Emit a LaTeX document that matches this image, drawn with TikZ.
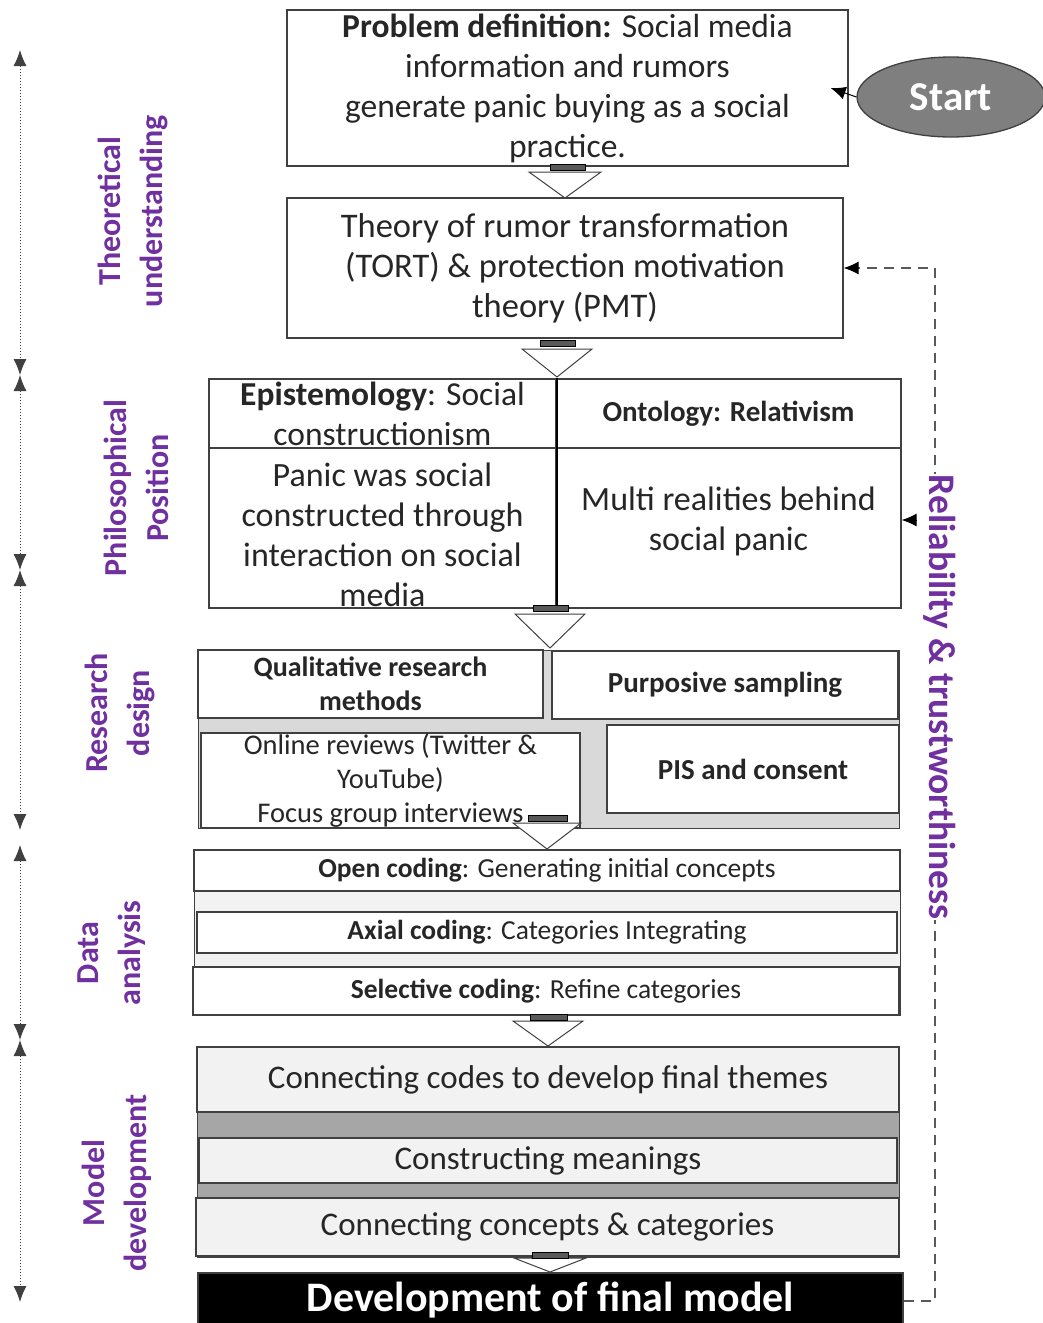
\documentclass[tikz,border=0pt]{standalone}
\usepackage{fontspec}
\setmainfont{Carlito}
\usetikzlibrary{arrows.meta,shapes.geometric}
\definecolor{txt}{HTML}{262626}
\definecolor{edge}{HTML}{404040}
\definecolor{purp}{HTML}{7030A0}
\definecolor{gA}{HTML}{D9D9D9}
\definecolor{gB}{HTML}{F2F2F2}
\definecolor{gC}{HTML}{A6A6A6}
\definecolor{barc}{HTML}{595959}
\definecolor{startfill}{HTML}{7F7F7F}
\definecolor{fbgray}{HTML}{595959}
\newcommand\fsz[2]{\fontsize{#1}{#2}\selectfont}
% #1 centre x, #2 triangle top y, #3 tip y, #4 half width, #5 bar left, #6 bar right, #7 bar top
\newcommand\flowarr[7]{%
  \draw[edge, line width=1pt, fill=white] (#1-#4,#2) -- (#1+#4,#2) -- (#1,#3) -- cycle;
  \draw[black, line width=0.8pt, fill=barc] (#5,#7) rectangle (#6,#7+6);
}
\begin{document}
\begin{tikzpicture}[x=1pt,y=-1pt,
  box/.style={draw=edge, line width=1.3pt, fill=white, text=txt, align=center, inner sep=0pt},
  bigtxt/.style={font=\fsz{34}{40}},
  midtxt/.style={font=\fsz{27.5}{33}},
  lab/.style={text=purp, font=\fsz{32}{42}\bfseries, align=center, rotate=90},
  leftarr/.style={draw=edge, dash pattern=on 1.2pt off 1.8pt, line width=1pt,
     arrows={Latex[length=16pt,width=13pt]-Latex[length=16pt,width=13pt]}},
  fbline/.style={draw=fbgray, line width=1.3pt, dash pattern=on 10pt off 7pt},
  tipline/.style={draw=black, line width=1pt, -{Latex[length=15pt,width=13pt]}}
]
\useasboundingbox (0,0) rectangle (1042,1323);

% ---- left phase arrows
\coordinate (a0) at (20,50);
\coordinate (a1) at (20,375);
\coordinate (a2) at (20,570);
\coordinate (a3) at (20,830);
\coordinate (a4) at (20,845);
\coordinate (a5) at (20,1040);
\coordinate (a6) at (20,1302);
\draw[leftarr] (a0) -- (a1);
\draw[leftarr] (a1) -- (a2);
\draw[leftarr] (a2) -- (a3);
\draw[leftarr] (a4) -- (a5);
\draw[leftarr] (a5) -- (a6);

% ---- phase labels
\node[lab] (ltheo) at (133,211) {Theoretical\\understanding};
\node[lab] (lphil) at (136,488) {Philosophical\\Position};
\node[lab] (lres) at (120,713) {Research\\design};
\node[lab] (ldata) at (112,953) {Data\\analysis};
\node[lab] (lmodel) at (117,1183) {Model\\development};

% ---- problem definition and start
\node[box, font=\fsz{33.5}{40}, minimum width=561, minimum height=156] (prob) at (567.5,88)
  {\textbf{Problem definition:} Social media\\information and rumors\\generate panic buying as a social\\practice.};
\node[ellipse, draw=edge, line width=1.3pt, fill=startfill, text=white, font=\fsz{41}{44}\bfseries,
  minimum width=188, minimum height=80, inner sep=0pt] (start) at (951,97) {Start};
\draw[tipline] (start.west) -- ([xshift=-18pt]prob.east);

% ---- theory
\node[box, font=\fsz{34.5}{40}, minimum width=556, minimum height=140] (theory) at (565,268)
  {Theory of rumor transformation\\(TORT) \& protection motivation\\theory (PMT)};

% ---- philosophical position
\node[box, font=\fsz{33.5}{40}, minimum width=347, minimum height=69] (epi) at (382.5,413.5)
  {\textbf{Epistemology}: Social\\constructionism};
\node[box, font=\fsz{29}{32}\bfseries, minimum width=345, minimum height=69] (onto) at (728.5,413.5)
  {Ontology: Relativism};
\node[box, bigtxt, minimum width=347, minimum height=160] (panic) at (382.5,528)
  {\parbox{340pt}{\centering\vspace*{14pt}Panic was social\\constructed through\\interaction on social\\media}};
\node[box, bigtxt, minimum width=345, minimum height=160] (multi) at (728.5,528)
  {\parbox{340pt}{\centering Multi realities behind\\social panic\par\vspace*{14pt}}};
\draw[black, line width=1.8pt] (epi.north east) -- (panic.south east);

% ---- research design
\node[draw=edge, line width=1pt, fill=gA, minimum width=701, minimum height=178, inner sep=0pt] (resbg) at (548.5,739) {};
\node[box, font=\fsz{28}{34}\bfseries, minimum width=345, minimum height=68] (qual) at (370.5,684)
  {Qualitative research\\methods};
\node[box, font=\fsz{29}{34}\bfseries, minimum width=346, minimum height=68] (purp) at (725,685)
  {Purposive sampling};
\node[box, font=\fsz{28.5}{34}, minimum width=379, minimum height=95] (online) at (390.5,780.5)
  {Online reviews (Twitter \&\\YouTube)\\Focus group interviews};
\node[box, font=\fsz{29}{34}\bfseries, minimum width=292, minimum height=88] (pis) at (753,769)
  {PIS and consent};

% ---- data analysis
\node[draw=edge, line width=1pt, fill=gB, minimum width=706, minimum height=165, inner sep=0pt] (databg) at (547,932.5) {};
\node[box, midtxt, minimum width=706, minimum height=41] (open) at (547,870.5)
  {\textbf{Open coding}: Generating initial concepts};
\node[box, midtxt, minimum width=700, minimum height=41] (axial) at (547,932.5)
  {\textbf{Axial coding}: Categories Integrating};
\node[box, midtxt, minimum width=706, minimum height=48] (sel) at (546,991)
  {\textbf{Selective coding}: Refine categories};

% ---- model development
\node[draw=edge, line width=1pt, fill=gC, minimum width=702, minimum height=210, inner sep=0pt] (modbg) at (548,1152) {};
\node[box, fill=gB, font=\fsz{33}{38}, minimum width=702, minimum height=65] (themes) at (548,1079.5)
  {Connecting codes to develop final themes};
\node[box, fill=gB, font=\fsz{33}{38}, minimum width=698, minimum height=45] (meanings) at (548,1160.5)
  {Constructing meanings};
\node[box, fill=gB, font=\fsz{33}{38}, minimum width=703, minimum height=58] (concepts) at (547.5,1227)
  {Connecting concepts \& categories};

% ---- final
\node[box, fill=black, text=white, font=\fsz{42}{46}\bfseries, text height=31pt, text depth=17pt,
  minimum width=705, minimum height=62] (final) at (550.5,1304)
  {Development of final model};

% ---- block arrows between stages
\flowarr{565}{172}{198}{36}{550}{585}{164}
\flowarr{557}{349}{377}{35}{540}{575}{340}
\flowarr{550}{614}{648}{35}{533}{568}{605}
\flowarr{547}{823}{849}{34}{528}{567}{815}
\flowarr{548}{1021}{1046}{35}{530}{567}{1014}
\flowarr{550}{1258}{1272}{36}{532}{568}{1252}

% ---- feedback loop
\coordinate (fbc) at (935,1301);
\draw[fbline] (final.east |- fbc) -- (fbc) -- (fbc |- theory.east) -- ([xshift=14pt]theory.east);
\draw[tipline] ([xshift=15pt]theory.east) -- (theory.east);
\coordinate (relc) at (916,520);
\draw[tipline] (relc) -- (multi.east |- relc);
\node[rotate=-90, fill=white, text=purp, font=\fsz{37.5}{40}\bfseries, inner sep=1pt] (rel) at (940,697)
  {Reliability \& trustworthiness};
\end{tikzpicture}
\end{document}
